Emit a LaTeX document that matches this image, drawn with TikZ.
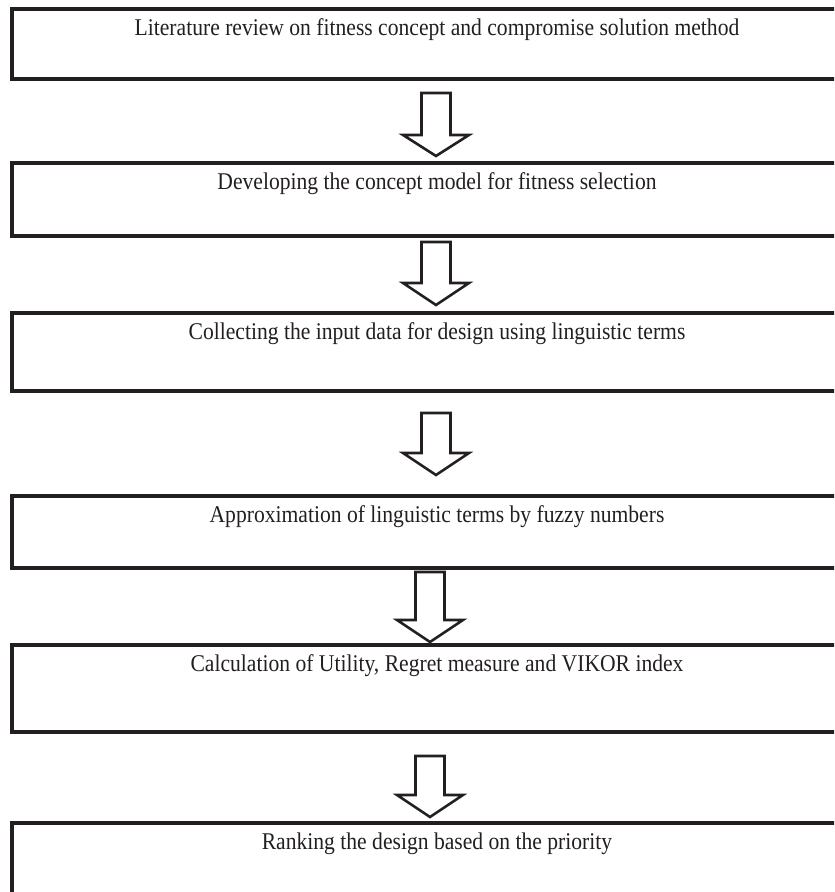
\documentclass[tikz,border=0pt]{standalone}
\usepackage{fontspec}
\newfontfamily\boxfont[FakeStretch=0.9]{Liberation Serif}
\usetikzlibrary{positioning}
\definecolor{inkgray}{RGB}{35,31,32}
\tikzset{stepbox/.style={draw=inkgray,line width=1.8pt,minimum width=425pt,anchor=north,inner sep=0pt,outer sep=0pt}}
\tikzset{steptext/.style={font=\boxfont\fontsize{12}{14}\selectfont,text=inkgray,inner sep=0pt}}
\tikzset{flowarrow/.style={draw=inkgray,line width=1.3pt,line join=miter,fill=white}}

\begin{document}
\begin{tikzpicture}[x=0.5pt,y=-0.5pt]
            % canvas, boxes run past the right and bottom edge
            \useasboundingbox (0,0) rectangle (834,892);
            \clip (0,0) rectangle (834,892);
            % setup the boxes
            \foreach \n/\top/\h/\txt in {1/9/70/{Literature review on fitness concept and compromise solution method},
                2/163/73/{Developing the concept model for fitness selection},
                3/313/78/{Collecting the input data for design using linguistic terms},
                4/496/72/{Approximation of linguistic terms by fuzzy numbers},
                5/645/87/{Calculation of Utility, Regret measure and VIKOR index},
                6/823/120/{Ranking the design based on the priority}}
            {
                \node[stepbox,minimum height=\h*0.5pt] (b\n) at (437,\top) {};
                \node[steptext] (t\n) at ([yshift=-10.5pt]b\n.north) {\txt};
            }
            % block arrows between the boxes
            \foreach \cx/\ya/\yb/\yc in {436/93/135/156,436/242/283/305,436/413/453/475,430/572/620/642,430/756/795/817}
            {
                \draw[flowarrow] (\cx-14.5,\ya) -- (\cx+14.5,\ya) -- (\cx+14.5,\yb) -- (\cx+33,\yb)
                    -- (\cx,\yc) -- (\cx-33,\yb) -- (\cx-14.5,\yb) -- cycle;
            }
        \end{tikzpicture}
\end{document}
